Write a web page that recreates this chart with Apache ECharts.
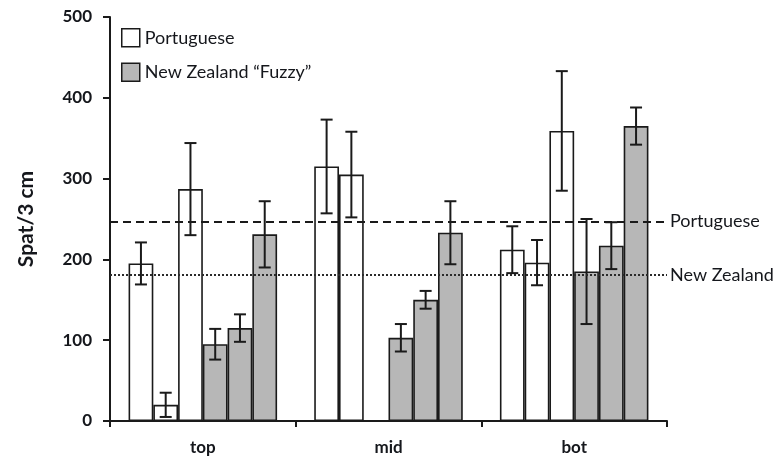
<!DOCTYPE html>
<html>
<head>
<meta charset="utf-8">
<script src="https://cdn.jsdelivr.net/npm/echarts@6/dist/echarts.min.js"></script>
<style>
  html, body { margin: 0; padding: 0; background: #fff; }
  #chart { width: 775px; height: 457px; }
</style>
</head>
<body>
<div id="chart"></div>
<script>
// Sampling positions along the fibre
const categories = ['top', 'mid', 'bot'];

// Portuguese samples (three bars per position), means and ± error
const portugueseA = [195, 315, 212];
const portugueseAErr = [26, 58, 29];
const portugueseB = [20, 305, 196];
const portugueseBErr = [15, 53, 28];
const portugueseC = [287, null, 359];
const portugueseCErr = [57, null, 74];

// New Zealand "Fuzzy" samples
const fuzzyA = [95, 103, 185];
const fuzzyAErr = [19, 17, 65];
const fuzzyB = [115, 150, 217];
const fuzzyBErr = [17, 11, 29];
const fuzzyC = [231, 233, 365];
const fuzzyCErr = [41, 39, 23];

// Overall averages drawn as reference lines
const portugueseMean = 247;
const fuzzyMean = 181;

const yTicks = { min: 0, max: 500, interval: 100 };

const PT_NAME = 'Portuguese';
const NZ_NAME = 'New Zealand \u201CFuzzy\u201D';
const TEXT = '#15171c';
const FONT = 'Lato, "Open Sans", sans-serif';

const slots = [
  { name: PT_NAME, values: portugueseA, errs: portugueseAErr, color: '#ffffff' },
  { name: PT_NAME, values: portugueseB, errs: portugueseBErr, color: '#ffffff' },
  { name: PT_NAME, values: portugueseC, errs: portugueseCErr, color: '#ffffff' },
  { name: NZ_NAME, values: fuzzyA, errs: fuzzyAErr, color: '#b7b7b7' },
  { name: NZ_NAME, values: fuzzyB, errs: fuzzyBErr, color: '#b7b7b7' },
  { name: NZ_NAME, values: fuzzyC, errs: fuzzyCErr, color: '#b7b7b7' }
];

const CATEGORY_GAP = 0.2;
const barSeries = slots.map(s => ({
  type: 'bar',
  name: s.name,
  data: s.values,
  barGap: '0%',
  barCategoryGap: (CATEGORY_GAP * 100) + '%',
  itemStyle: { color: s.color, borderColor: '#1a1a1a', borderWidth: 1.6 },
  emphasis: { disabled: true }
}));

// error bar items: [category index, slot index, mean, error]
const errData = [];
slots.forEach((s, k) => {
  s.values.forEach((v, i) => {
    if (v != null && s.errs[i] != null) errData.push([i, k, v, s.errs[i]]);
  });
});

const errorSeries = {
  type: 'custom',
  name: 'error',
  z: 10,
  silent: true,
  data: errData,
  encode: { x: 0, y: 2 },
  renderItem: function (params, api) {
    const cat = api.value(0), slot = api.value(1), v = api.value(2), e = api.value(3);
    const band = api.size([1, 0])[0];
    const bw = band * (1 - CATEGORY_GAP) / slots.length;
    const cx = api.coord([cat, v])[0] + (slot - (slots.length - 1) / 2) * bw;
    const yHi = api.coord([cat, v + e])[1];
    const yLo = api.coord([cat, v - e])[1];
    const cap = 6;
    const st = { stroke: '#1a1a1a', lineWidth: 2 };
    return {
      type: 'group',
      children: [
        { type: 'line', shape: { x1: cx, y1: yHi, x2: cx, y2: yLo }, style: st },
        { type: 'line', shape: { x1: cx - cap, y1: yHi, x2: cx + cap, y2: yHi }, style: st },
        { type: 'line', shape: { x1: cx - cap, y1: yLo, x2: cx + cap, y2: yLo }, style: st }
      ]
    };
  },
  markLine: {
    silent: true,
    symbol: 'none',
    z: 12,
    label: {
      show: true,
      position: 'end',
      distance: 3,
      color: TEXT,
      fontFamily: FONT,
      fontSize: 18,
      formatter: p => p.name
    },
    data: [
      { name: 'Portuguese', yAxis: portugueseMean,
        lineStyle: { type: [8, 5], width: 2, color: '#1a1a1a' } },
      { name: 'New Zealand', yAxis: fuzzyMean,
        lineStyle: { type: [2, 2], width: 2, color: '#2a2a2a' } }
    ]
  }
};

const chart = echarts.init(document.getElementById('chart'));
chart.setOption({
  animation: false,
  backgroundColor: '#ffffff',
  textStyle: { fontFamily: FONT, color: TEXT },
  grid: { left: 110, right: 108, top: 17, bottom: 36, containLabel: false },
  legend: {
    data: [PT_NAME, NZ_NAME],
    orient: 'vertical',
    left: 116,
    top: 23,
    itemWidth: 18,
    itemHeight: 18,
    itemGap: 15,
    icon: 'rect',
    selectedMode: false,
    itemStyle: { borderColor: '#1a1a1a', borderWidth: 1.5 },
    textStyle: { color: TEXT, fontFamily: FONT, fontSize: 18 }
  },
  xAxis: {
    type: 'category',
    data: categories,
    axisLine: { lineStyle: { color: '#1a1a1a', width: 2 } },
    axisTick: { show: true, length: 6, lineStyle: { color: '#1a1a1a', width: 2 } },
    axisLabel: { color: TEXT, fontFamily: FONT, fontWeight: 'bold', fontSize: 17, margin: 18 }
  },
  yAxis: {
    type: 'value',
    min: yTicks.min,
    max: yTicks.max,
    interval: yTicks.interval,
    name: 'Spat/3 cm',
    nameLocation: 'middle',
    nameGap: 73,
    nameTextStyle: { color: TEXT, fontFamily: FONT, fontWeight: 'bold', fontSize: 21 },
    splitLine: { show: false },
    axisLine: { show: true, lineStyle: { color: '#1a1a1a', width: 2 } },
    axisTick: { show: true, length: 7, lineStyle: { color: '#1a1a1a', width: 2 } },
    axisLabel: { color: TEXT, fontFamily: FONT, fontWeight: 'bold', fontSize: 17, margin: 18 }
  },
  series: barSeries.concat([errorSeries])
});
</script>
</body>
</html>
